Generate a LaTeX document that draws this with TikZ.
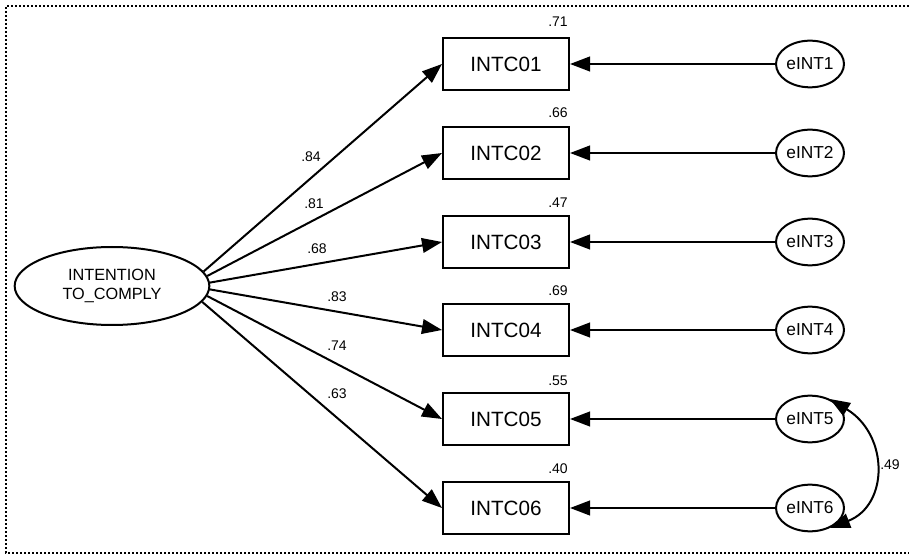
\documentclass[tikz,border=0pt]{standalone}
\usepackage{fontspec}
\setmainfont{Liberation Sans}
\usetikzlibrary{arrows.meta,shapes.geometric}
\begin{document}
\begin{tikzpicture}[x=0.75pt,y=-0.75pt,
  obs/.style={draw,line width=1.5pt,minimum width=94.5pt,minimum height=39pt,inner sep=0pt,font=\fontsize{15.5}{18}\selectfont},
  err/.style={draw,ellipse,line width=1.5pt,minimum width=51pt,minimum height=35pt,inner sep=0pt,font=\fontsize{13}{15}\selectfont},
  lat/.style={draw,ellipse,line width=1.5pt,minimum width=146pt,minimum height=58.5pt,inner sep=0pt,align=center,font=\fontsize{12.2}{14.3}\selectfont},
  reg/.style={line width=1.5pt,-{Triangle[length=15pt,width=11pt]}},
  cov/.style={line width=1.5pt,{Triangle[length=15pt,width=11pt]}-{Triangle[length=15pt,width=11pt]}},
  lbl/.style={font=\fontsize{10.5}{12}\selectfont,inner sep=0pt},
  frame/.style={line width=1.2pt,dash pattern=on 1.5pt off 1.5pt}
]
\useasboundingbox (0,0) rectangle (909,555);
\draw[frame] (909,6) -- (6,6) -- (6,553) -- (909,553);

\node[lat] (L) at (112,286) {INTENTION\\TO\_COMPLY};

\foreach \i/\y in {1/64,2/153,3/242,4/330,5/419,6/508}{
  \node[obs] (b\i) at (506,\y) {INTC0\i};
  \node[err] (e\i) at (810,\y) {eINT\i};
  \draw[reg] (e\i.west) -- (b\i.east);
}

\foreach \i/\y/\r in {1/22/.71,2/113/.66,3/203/.47,4/291/.69,5/381/.55,6/469/.40}{
  \node[lbl] (r\i) at (558,\y) {\r};
}

\draw[reg] (L.9) -- (b1.west);
\draw[reg] (L.6) -- (b2.west);
\draw[reg] (L.2) -- (b3.west);
\draw[reg] (L.-2) -- (b4.west);
\draw[reg] (L.-6) -- (b5.west);
\draw[reg] (L.-10) -- (b6.west);

\node[lbl] (p1) at (311,157) {.84};
\node[lbl] (p2) at (314,204) {.81};
\node[lbl] (p3) at (317,249) {.68};
\node[lbl] (p4) at (337,297) {.83};
\node[lbl] (p5) at (337,346) {.74};
\node[lbl] (p6) at (337,394) {.63};

\draw[cov] (e5.45) .. controls (889,435) and (889,505) .. (e6.-45);
\node[lbl] (c56) at (890,465) {.49};
\end{tikzpicture}
\end{document}
